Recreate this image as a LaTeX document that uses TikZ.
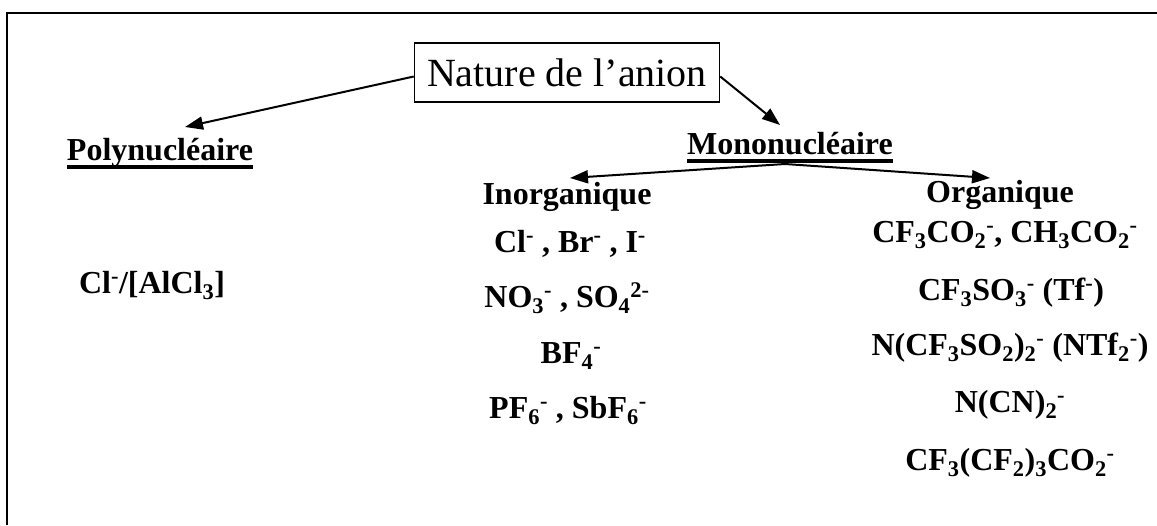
\documentclass[tikz,border=0pt]{standalone}
\usepackage{fontspec}
\setmainfont{Liberation Serif}
\usetikzlibrary{arrows.meta,calc}
\newcommand\sbs[1]{\textsubscript{#1}}
\newcommand\sps[1]{\textsuperscript{#1}}
\tikzset{
  frameline/.style={line width=2pt},
  titlebox/.style={draw, line width=1.5pt, minimum width=305pt, minimum height=59pt, inner sep=0pt,
    font=\fontsize{40}{46}\selectfont},
  heading/.style={anchor=base, inner sep=0pt, font=\fontsize{32}{38}\selectfont\bfseries},
  item/.style={anchor=base, inner sep=0pt, font=\fontsize{32}{38}\selectfont\bfseries},
  ul/.style={line width=3.5pt},
  conn/.style={line width=2pt, -{Triangle[length=18pt,width=13pt]}}
}
\begin{document}
\begin{tikzpicture}[x=1pt,y=-1pt]
\useasboundingbox (0,0) rectangle (1157,525);
\draw[frameline] (7,525) -- (7,13) -- (1157,13);

\node[titlebox] (title) at (567,72.5) {Nature de l’anion};

\node[heading] (poly) at (160,160) {Polynucléaire};
\node[heading] (mono) at (790,154) {Mononucléaire};
\draw[ul] ($(poly.base west)+(0,7)$) -- ($(poly.base east)+(0,7)$);
\draw[ul] ($(mono.base west)+(0,7)$) -- ($(mono.base east)+(0,7)$);

\node[item] (clal) at (152,293) {Cl\sps{-}/[AlCl\sbs{3}]};

\node[item] (inorg) at (567,204) {Inorganique};
\node[item] (in1) at (570,252) {Cl\sps{-} , Br\sps{-} , I\sps{-}};
\node[item] (in2) at (567,307) {NO\sbs{3}\sps{-} , SO\sbs{4}\sps{2-}};
\node[item] (in3) at (571,363) {BF\sbs{4}\sps{-}};
\node[item] (in4) at (568,418) {PF\sbs{6}\sps{-} , SbF\sbs{6}\sps{-}};

\node[item] (org) at (1000,202) {Organique};
\node[item] (or1) at (1005,242) {CF\sbs{3}CO\sbs{2}\sps{-}, CH\sbs{3}CO\sbs{2}\sps{-}};
\node[item] (or2) at (1011,300) {CF\sbs{3}SO\sbs{3}\sps{-} (Tf\sps{-})};
\node[item] (or3) at (1010,355) {N(CF\sbs{3}SO\sbs{2})\sbs{2}\sps{-} (NTf\sbs{2}\sps{-})};
\node[item] (or4) at (1010,412) {N(CN)\sbs{2}\sps{-}};
\node[item] (or5) at (1010,470) {CF\sbs{3}(CF\sbs{2})\sbs{3}CO\sbs{2}\sps{-}};

\draw[conn] ($(title.west)+(0,4)$) -- ($(poly.base)+(25,-33)$);
\draw[conn] ($(title.east)+(0,4)$) -- ($(mono.base)+(-10,-29)$);
\draw[conn] ($(mono.base)+(-5,10)$) -- ($(inorg.base)+(3,-26)$);
\draw[conn] ($(mono.base)+(-5,10)$) -- ($(org.base)+(-10,-24)$);
\end{tikzpicture}
\end{document}
